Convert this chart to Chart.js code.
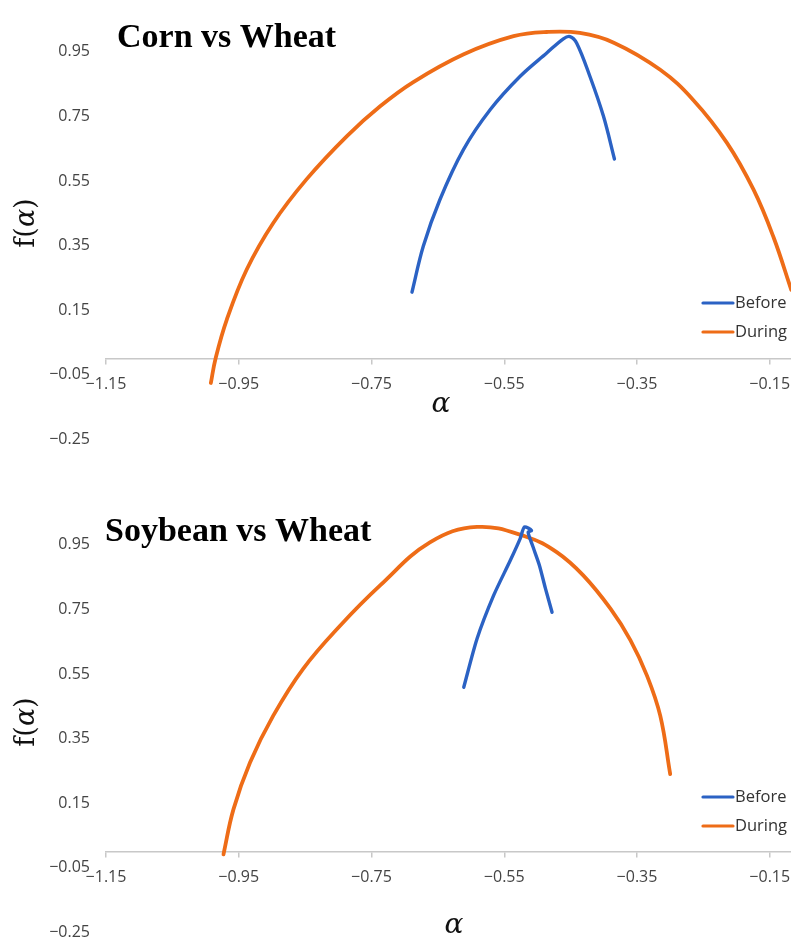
<!DOCTYPE html>
<html>
<head>
<meta charset="utf-8">
<script src="https://cdn.jsdelivr.net/npm/chart.js@4/dist/chart.umd.min.js"></script>
<style>
  html, body { margin: 0; padding: 0; background: #fff; }
  #wrap { position: relative; width: 791px; height: 939px; overflow: hidden; background: #fff; }
  .panel { position: absolute; left: 0; width: 791px; height: 446px; }
  #p1 { top: 0; }
  #p2 { top: 493px; }
  canvas { display: block; }
</style>
</head>
<body>
<div id="wrap">
  <div class="panel" id="p1"><canvas id="c1" width="791" height="446"></canvas></div>
  <div class="panel" id="p2"><canvas id="c2" width="791" height="446"></canvas></div>
</div>
<script>
// Axis ticks shared by both panels
const alphaTicks = [-1.15, -0.95, -0.75, -0.55, -0.35, -0.15];
const fTicks = [-0.25, -0.05, 0.15, 0.35, 0.55, 0.75, 0.95];
const seriesNames = ['Before', 'During'];
const panelTitles = ['Corn vs Wheat', 'Soybean vs Wheat'];

// Corn vs Wheat spectra
const cornBeforeAlpha = [-0.689, -0.672, -0.647, -0.6115, -0.571, -0.526, -0.486, -0.461, -0.451, -0.441, -0.421, -0.4005, -0.384];
const cornBeforeF     = [0.206, 0.348, 0.492, 0.647, 0.771, 0.874, 0.946, 0.990, 0.997, 0.977, 0.874, 0.750, 0.618];
const cornDuringAlpha = [-0.992, -0.985, -0.968, -0.938, -0.898, -0.848, -0.787, -0.737, -0.687, -0.611, -0.536, -0.486, -0.436, -0.385, -0.315, -0.265, -0.2145, -0.1744, -0.1443, -0.1176];
const cornDuringF     = [-0.075, 0.000, 0.121, 0.276, 0.420, 0.555, 0.689, 0.781, 0.856, 0.942, 0.998, 1.011, 1.008, 0.978, 0.894, 0.800, 0.668, 0.523, 0.376, 0.213];

// Soybean vs Wheat spectra
const soyBeforeAlpha = [-0.611, -0.591, -0.566, -0.541, -0.526, -0.5195, -0.509, -0.514, -0.507, -0.497, -0.488, -0.478];
const soyBeforeF     = [0.509, 0.659, 0.793, 0.901, 0.969, 1.005, 0.994, 0.989, 0.945, 0.886, 0.815, 0.741];
const soyDuringAlpha = [-0.973, -0.958, -0.933, -0.898, -0.853, -0.797, -0.737, -0.662, -0.591, -0.516, -0.471, -0.431, -0.390, -0.360, -0.335, -0.315, -0.300];
const soyDuringF     = [-0.008, 0.131, 0.276, 0.421, 0.566, 0.700, 0.824, 0.957, 1.005, 0.974, 0.927, 0.855, 0.752, 0.655, 0.545, 0.421, 0.240];

const BLUE = '#2b62c4';
const ORANGE = '#ee6c17';
const TICK_COLOR = '#444444';
const AXIS_COLOR = '#c8c8c8';

function toPoints(xs, ys) {
  return xs.map((x, i) => ({ x: x, y: ys[i] }));
}

function fmt(v) {
  return (v < 0 ? '\u2212' : '') + Math.abs(v).toFixed(2);
}

// Title, axis titles and legend drawn onto each panel
const panelText = {
  id: 'panelText',
  afterDraw(chart, args, opts) {
    const ctx = chart.ctx;
    ctx.save();
    ctx.fillStyle = '#000';
    ctx.textAlign = 'left';
    ctx.textBaseline = 'alphabetic';
    ctx.font = 'bold 34px "Liberation Serif"';
    ctx.fillText(opts.title, opts.titleX, opts.titleY);

    // x axis title
    ctx.font = 'italic 28px "DejaVu Serif"';
    ctx.textAlign = 'center';
    ctx.textBaseline = 'middle';
    ctx.fillStyle = '#111';
    ctx.fillText('\u03b1', opts.xTitleX, opts.xTitleY);

    // y axis title f(α), rotated
    ctx.save();
    ctx.translate(opts.yTitleX, opts.yTitleY);
    ctx.rotate(-Math.PI / 2);
    const upright = '27px "DejaVu Serif"';
    const slanted = 'italic 27px "DejaVu Serif"';
    ctx.font = upright; const w1 = ctx.measureText('f(').width; const w3 = ctx.measureText(')').width;
    ctx.font = slanted; const w2 = ctx.measureText('\u03b1').width;
    const x0 = -(w1 + w2 + w3) / 2;
    ctx.textAlign = 'left';
    ctx.font = upright; ctx.fillText('f(', x0, 0);
    ctx.font = slanted; ctx.fillText('\u03b1', x0 + w1, 0);
    ctx.font = upright; ctx.fillText(')', x0 + w1 + w2, 0);
    ctx.restore();

    // legend
    ctx.textAlign = 'left';
    ctx.textBaseline = 'middle';
    ctx.font = '16.5px "Open Sans"';
    chart.data.datasets.forEach((ds, i) => {
      const y = opts.legendY + i * 29;
      ctx.strokeStyle = ds.borderColor;
      ctx.lineWidth = 3.2;
      ctx.lineCap = 'round';
      ctx.beginPath();
      ctx.moveTo(703, y);
      ctx.lineTo(733, y);
      ctx.stroke();
      ctx.fillStyle = '#333';
      ctx.fillText(ds.label, 735, y);
    });
    ctx.restore();
  }
};

function makePanel(canvasId, title, beforePts, duringPts, beforeTension, text) {
  return new Chart(document.getElementById(canvasId), {
    type: 'scatter',
    data: {
      datasets: [
        { label: seriesNames[0], data: beforePts, showLine: true, borderColor: BLUE, backgroundColor: BLUE,
          borderWidth: 3.4, pointRadius: 0, tension: beforeTension,
          borderCapStyle: 'round', borderJoinStyle: 'round' },
        { label: seriesNames[1], data: duringPts, showLine: true, borderColor: ORANGE, backgroundColor: ORANGE,
          borderWidth: 3.8, pointRadius: 0, tension: 0.4,
          borderCapStyle: 'round', borderJoinStyle: 'round' }
      ]
    },
    options: {
      responsive: false,
      animation: false,
      layout: { padding: 0 },
      plugins: {
        legend: { display: false },
        title: { display: false },
        tooltip: { enabled: false },
        panelText: Object.assign({ title: title }, text)
      },
      scales: {
        x: {
          type: 'linear',
          min: -1.15,
          max: -0.118,
          position: { y: 0 },
          afterBuildTicks: s => { s.ticks = alphaTicks.map(v => ({ value: v })); },
          afterFit: s => { s.height = 0; s.paddingLeft = 0; s.paddingRight = 0; },
          grid: { drawOnChartArea: false, drawTicks: true, tickLength: 5, color: AXIS_COLOR, lineWidth: 1.5 },
          border: { display: true, color: AXIS_COLOR, width: 1.5 },
          ticks: { padding: 11, color: TICK_COLOR, font: { family: 'Open Sans', size: 16 },
                   maxRotation: 0, autoSkip: false, callback: v => fmt(v) }
        },
        y: {
          type: 'linear',
          min: -0.27,
          max: 1.11,
          afterBuildTicks: s => { s.ticks = fTicks.map(v => ({ value: v })); },
          afterFit: s => { s.width = 106; s.paddingTop = 0; s.paddingBottom = 0; },
          grid: { display: false, drawTicks: false, tickLength: 0 },
          border: { display: false },
          ticks: { padding: 16, color: TICK_COLOR, font: { family: 'Open Sans', size: 16 },
                   autoSkip: false, callback: v => fmt(v) }
        }
      }
    },
    plugins: [panelText]
  });
}

makePanel('c1', panelTitles[0],
  toPoints(cornBeforeAlpha, cornBeforeF), toPoints(cornDuringAlpha, cornDuringF), 0.35,
  { titleX: 117, titleY: 47, xTitleX: 441, xTitleY: 405, yTitleX: 27, yTitleY: 223, legendY: 303 });

makePanel('c2', panelTitles[1],
  toPoints(soyBeforeAlpha, soyBeforeF), toPoints(soyDuringAlpha, soyDuringF), 0.25,
  { titleX: 105, titleY: 48, xTitleX: 454, xTitleY: 433, yTitleX: 27, yTitleY: 229, legendY: 304 });
</script>
</body>
</html>
